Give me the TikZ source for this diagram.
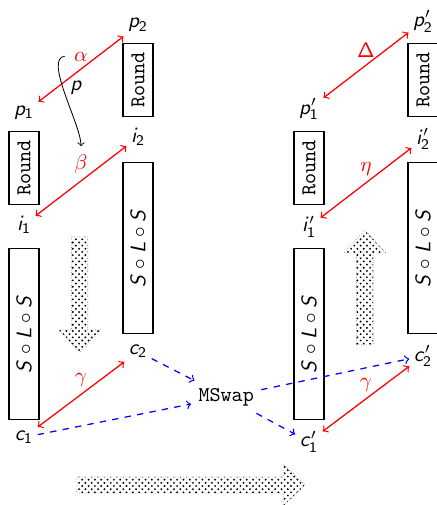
\documentclass[tikz,border=0pt]{standalone}
\usetikzlibrary{positioning,patterns}

% sans serif math letters and digits
\DeclareSymbolFont{sfletters}{OT1}{cmss}{m}{sl}
\DeclareSymbolFont{sfupright}{OT1}{cmss}{m}{n}
\DeclareMathSymbol{p}{\mathalpha}{sfletters}{`p}
\DeclareMathSymbol{i}{\mathalpha}{sfletters}{`i}
\DeclareMathSymbol{c}{\mathalpha}{sfletters}{`c}
\DeclareMathSymbol{S}{\mathalpha}{sfletters}{`S}
\DeclareMathSymbol{L}{\mathalpha}{sfletters}{`L}
\DeclareMathSymbol{1}{\mathord}{sfupright}{`1}
\DeclareMathSymbol{2}{\mathord}{sfupright}{`2}
\DeclareMathSymbol{\Delta}{\mathalpha}{sfupright}{"01}

\tikzset{
  rnd/.style={draw,semithick,minimum width=0.5cm,minimum height=1.22cm,inner sep=0pt},
  sls/.style={draw,semithick,minimum width=0.5cm,minimum height=2.85cm,inner sep=0pt},
  lbl/.style={inner sep=2pt},
  rel/.style={<->,red,semithick},
  swp/.style={->,dashed,blue,semithick},
  bigarrow/.style={pattern=crosshatch dots,draw,densely dotted,very thin}
}

\begin{document}
\begin{tikzpicture}[node distance=3pt]
            \useasboundingbox (0,0) rectangle (7.283,8.417);
            % left pair
            \node[rnd] (r1) at (0.40,5.62) {\rotatebox{90}{\texttt{Round}}};
            \node[sls] (s1) at (0.40,2.85) {\rotatebox{90}{$S\circ L\circ S$}};
            \node[rnd] (r2) at (2.30,7.08) {\rotatebox{90}{\texttt{Round}}};
            \node[sls] (s2) at (2.30,4.28) {\rotatebox{90}{$S\circ L\circ S$}};
            \node[lbl,above=of r1] (p1) {$p_1$};
            \node[lbl,below=of r1] (i1) {$i_1$};
            \node[lbl,below=of s1] (c1) {$c_1$};
            \node[lbl,above=of r2] (p2) {$p_2$};
            \node[lbl,below=of r2] (i2) {$i_2$};
            \node[lbl,below=of s2] (c2) {$c_2$};
            % right pair
            \node[rnd] (rr1) at (5.15,5.62) {\rotatebox{90}{\texttt{Round}}};
            \node[sls] (ss1) at (5.15,2.85) {\rotatebox{90}{$S\circ L\circ S$}};
            \node[rnd] (rr2) at (7.05,7.08) {\rotatebox{90}{\texttt{Round}}};
            \node[sls] (ss2) at (7.05,4.28) {\rotatebox{90}{$S\circ L\circ S$}};
            \node[lbl,above=of rr1] (pp1) {$p'_1$};
            \node[lbl,below=of rr1] (ii1) {$i'_1$};
            \node[lbl,below=of ss1] (cc1) {$c'_1$};
            \node[lbl,above=of rr2] (pp2) {$p'_2$};
            \node[lbl,below=of rr2] (ii2) {$i'_2$};
            \node[lbl,below=of ss2] (cc2) {$c'_2$};
            \node (msw) at (3.77,1.80) {\texttt{MSwap}};
            % relations
            \draw[rel] (p1) -- node[above,red] {$\alpha$} (p2);
            \draw[rel] (i1) -- node[above,red] {$\beta$} (i2);
            \draw[rel] (c1) -- node[above,red] {$\gamma$} (c2);
            \draw[rel] (pp1) -- node[above,red] {$\Delta$} (pp2);
            \draw[rel] (ii1) -- node[above,red] {$\eta$} (ii2);
            \draw[rel] (cc1) -- node[above,red] {$\gamma$} (cc2);
            \coordinate (ps) at (1.08,7.48);
            \coordinate (pe) at (1.35,5.98);
            \draw[->] (ps) to[out=185,in=90,looseness=0.6] node[pos=0.45,right] {$p$} (pe);
            % swap
            \draw[swp] (c2) -- (msw);
            \draw[swp] (c1) -- (msw);
            \draw[swp] (msw) -- (cc2);
            \draw[swp] (msw) -- (cc1);
            % big arrows
            \draw[bigarrow] (1.195,4.47) -- (1.465,4.47) -- (1.465,2.92) -- (1.68,2.92)
                -- (1.33,2.55) -- (0.98,2.92) -- (1.195,2.92) -- cycle;
            \draw[bigarrow] (5.94,2.67) -- (6.22,2.67) -- (6.22,4.2) -- (6.43,4.2)
                -- (6.08,4.58) -- (5.73,4.2) -- (5.94,4.2) -- cycle;
            \draw[bigarrow] (1.28,0.2) -- (4.72,0.2) -- (4.72,-0.017) -- (5.083,0.333)
                -- (4.72,0.683) -- (4.72,0.467) -- (1.28,0.467) -- cycle;
        \end{tikzpicture}
\end{document}
